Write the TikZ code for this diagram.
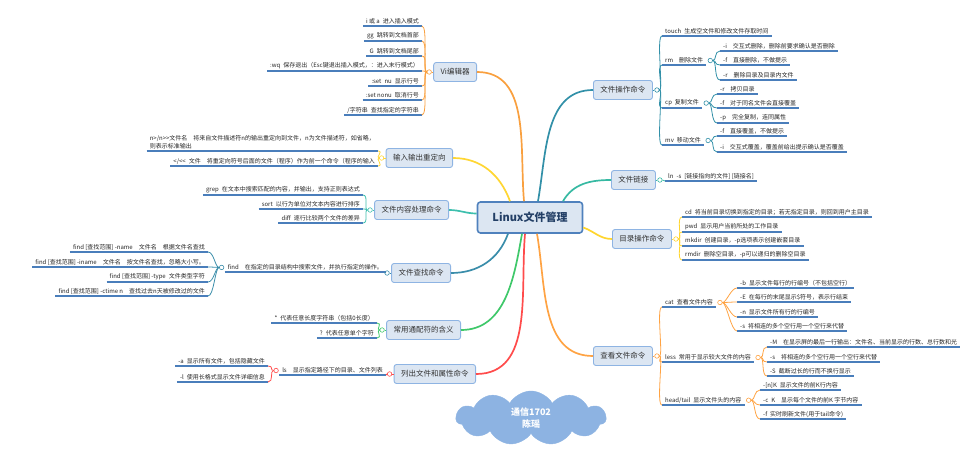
\documentclass[tikz,border=0pt]{standalone}
\usepackage{fontspec}
\setmainfont{Noto Sans CJK SC}
\usetikzlibrary{shapes.symbols}

\definecolor{boxfill}{HTML}{DCE6F2}
\definecolor{boxline}{HTML}{8EB4E3}
\definecolor{rootline}{HTML}{4F81BD}
\definecolor{roottext}{HTML}{233F66}
\definecolor{uline}{HTML}{4A7EBB}
\definecolor{cloudfill}{HTML}{8DB3E2}
\definecolor{cVi}{HTML}{F9A03F}
\definecolor{cIo}{HTML}{FFD633}
\definecolor{cTxt}{HTML}{3DBFAD}
\definecolor{cFnd}{HTML}{3A8DAA}
\definecolor{cWc}{HTML}{3FC86A}
\definecolor{cLs}{HTML}{FF4B4B}
\definecolor{cOps}{HTML}{3290A8}
\definecolor{cLnk}{HTML}{36B9A2}
\definecolor{cDir}{HTML}{FFD52E}
\definecolor{cView}{HTML}{FFA343}

\begin{document}
\begin{tikzpicture}[x=1pt,y=1pt]
  \tikzstyle{root}=[draw=rootline,line width=1.6pt,fill=boxfill,rounded corners=3pt,
    minimum width=105pt,minimum height=31pt,text=roottext,font=\fontsize{11}{13}\selectfont\bfseries]
  \tikzstyle{topic}=[draw=boxline,line width=0.9pt,fill=boxfill,rounded corners=2.5pt,
    minimum height=19pt,inner xsep=7pt,text=black!80,font=\fontsize{7.5}{9}\selectfont]
  \tikzstyle{leaf}=[inner xsep=3pt,inner ysep=1.5pt,text=black!85,font=\fontsize{6}{8}\selectfont,
    append after command={(\tikzlastnode.south west) edge[draw=uline,line width=1.1pt] (\tikzlastnode.south east)}]
  \tikzstyle{lleaf}=[leaf,anchor=south east]
  \tikzstyle{rleaf}=[leaf,anchor=south west]
  \tikzstyle{knob}=[circle,fill=white,line width=0.6pt,inner sep=0pt,minimum size=4.5pt]
  \tikzstyle{branch}=[line width=1.7pt]
  \tikzstyle{twig}=[line width=0.8pt]
  \useasboundingbox (0,0) rectangle (963,-449);

  \node[root] (root) at (530,-217.5) {Linux文件管理};

  % left side
  \node[topic,anchor=east] (vi) at (477,-72) {Vi编辑器};
  \node[knob,draw=cVi] (viK) at ([xshift=-4pt]vi.west) {};
  \node[lleaf] (vi1) at (422,-26) {i 或 a\enspace 进入插入模式};
  \node[lleaf] (vi2) at (422,-41) {gg\enspace 跳转到文档首部};
  \node[lleaf] (vi3) at (422,-56) {G\enspace 跳转到文档尾部};
  \node[lleaf] (vi4) at (422,-71) {:wq\enspace 保存退出（Esc键退出插入模式，：进入末行模式）};
  \node[lleaf] (vi5) at (422,-86) {:set\enspace nu\enspace 显示行号};
  \node[lleaf] (vi6) at (422,-100) {:set nonu\enspace 取消行号};
  \node[lleaf] (vi7) at (422,-115) {/字符串\enspace 查找指定的字符串};

  \node[topic,anchor=east] (io) at (453,-158) {输入输出重定向};
  \node[knob,draw=cIo] (ioK) at ([xshift=-4pt]io.west) {};
  \node[lleaf,align=left] (io1) at (378,-151) {n>/n>{}>文件名\quad 将来自文件描述符n的输出重定向到文件，n为文件描述符，如省略，\\则表示标准输出};
  \node[lleaf] (io2) at (378,-166) {</<{}<\enspace 文件\quad 将重定向符号后面的文件（程序）作为前一个命令（程序的输入};

  \node[topic,anchor=east] (txt) at (449,-210) {文件内容处理命令};
  \node[knob,draw=cTxt] (txtK) at ([xshift=-4pt]txt.west) {};
  \node[lleaf] (txt1) at (363,-195) {grep\enspace 在文本中搜索匹配的内容，并输出，支持正则表达式};
  \node[lleaf] (txt2) at (363,-209) {sort\enspace 以行为单位对文本内容进行排序};
  \node[lleaf] (txt3) at (363,-223) {diff\enspace 逐行比较两个文件的差异};

  \node[topic,anchor=east] (fnd) at (451,-273) {文件查找命令};
  \node[knob,draw=cFnd] (fndK) at ([xshift=-4pt]fnd.west) {};
  \node[lleaf] (fnd0) at (386,-272) {find\quad 在指定的目录结构中搜索文件，并执行指定的操作。};
  \node[knob,draw=cFnd] (fnd0K) at ([xshift=-3pt]fnd0.west) {};
  \node[lleaf] (fnd1) at (208,-252) {find [查找范围] -name\quad 文件名\quad 根据文件名查找};
  \node[lleaf] (fnd2) at (208,-267) {find [查找范围] -iname\quad 文件名\quad 按文件名查找，忽略大小写。};
  \node[lleaf] (fnd3) at (208,-282) {find [查找范围] -type\enspace 文件类型字符};
  \node[lleaf] (fnd4) at (208,-296) {find [查找范围] -ctime n\quad 查找过去n天被修改过的文件};

  \node[topic,anchor=east] (wc) at (461,-330) {常用通配符的含义};
  \node[knob,draw=cWc] (wcK) at ([xshift=-4pt]wc.west) {};
  \node[lleaf] (wc1) at (377,-323) {*\enspace 代表任意长度字符串（包括0长度）};
  \node[lleaf] (wc2) at (377,-338) {?\enspace 代表任意单个字符};

  \node[topic,anchor=east] (ls) at (476,-374) {列出文件和属性命令};
  \node[knob,draw=cLs] (lsK) at ([xshift=-4pt]ls.west) {};
  \node[lleaf] (ls0) at (386,-375) {ls\quad 显示指定路径下的目录、文件列表};
  \node[knob,draw=cLs] (ls0K) at ([xshift=-3pt]ls0.west) {};
  \node[lleaf] (ls1) at (268,-366) {-a\enspace 显示所有文件，包括隐藏文件};
  \node[lleaf] (ls2) at (268,-382) {-l\enspace 使用长格式显示文件详细信息};

  % right side
  \node[topic,anchor=west] (ops) at (593,-90) {文件操作命令};
  \node[knob,draw=cOps] (opsK) at ([xshift=4pt]ops.east) {};
  \node[rleaf] (touch) at (662,-36) {touch\enspace 生成空文件和修改文件存取时间};
  \node[rleaf] (rm) at (662,-65) {rm\quad 删除文件};
  \node[rleaf] (cp) at (662,-108) {cp\enspace 复制文件};
  \node[rleaf] (mv) at (662,-145) {mv\enspace 移动文件};
  \node[knob,draw=cOps] (rmK) at ([xshift=4pt]rm.east) {};
  \node[knob,draw=cOps] (cpK) at ([xshift=4pt]cp.east) {};
  \node[knob,draw=cOps] (mvK) at ([xshift=4pt]mv.east) {};
  \node[rleaf] (rm1) at (720,-51) {-i\quad 交互式删除，删除前要求确认是否删除};
  \node[rleaf] (rm2) at (720,-65) {-f\quad 直接删除，不做提示};
  \node[rleaf] (rm3) at (720,-80) {-r\quad 删除目录及目录内文件};
  \node[rleaf] (cp1) at (717,-94) {-r\quad 拷贝目录};
  \node[rleaf] (cp2) at (717,-108) {-f\quad 对于同名文件会直接覆盖};
  \node[rleaf] (cp3) at (717,-123) {-p\quad 完全复制，连同属性};
  \node[rleaf] (mv1) at (717,-136) {-f\quad 直接覆盖，不做提示};
  \node[rleaf] (mv2) at (717,-152) {-i\quad 交互式覆盖，覆盖前给出提示确认是否覆盖};

  \node[topic,anchor=west] (lnk) at (611,-180) {文件链接};
  \node[knob,draw=cLnk] (lnkK) at ([xshift=4pt]lnk.east) {};
  \node[rleaf] (lnk1) at (665,-181) {ln\enspace -s\enspace [链接指向的文件] [链接名]};

  \node[topic,anchor=west] (dir) at (612,-239) {目录操作命令};
  \node[knob,draw=cDir] (dirK) at ([xshift=4pt]dir.east) {};
  \node[rleaf] (dir1) at (682,-217) {cd\enspace 将当前目录切换到指定的目录；若无指定目录，则回到用户主目录};
  \node[rleaf] (dir2) at (682,-232) {pwd\enspace 显示用户当前所处的工作目录};
  \node[rleaf] (dir3) at (682,-246) {mkdir\enspace 创建目录，-p选项表示创建嵌套目录};
  \node[rleaf] (dir4) at (682,-260) {rmdir\enspace 删除空目录，-p可以递归的删除空目录};

  \node[topic,anchor=west] (view) at (593,-356) {查看文件命令};
  \node[knob,draw=cView] (viewK) at ([xshift=4pt]view.east) {};
  \node[rleaf] (cat) at (662,-307) {cat\enspace 查看文件内容};
  \node[rleaf] (less) at (662,-362) {less\enspace 常用于显示较大文件的内容};
  \node[rleaf] (head) at (662,-405) {head/tail\enspace 显示文件头的内容};
  \node[knob,draw=cView] (catK) at ([xshift=4pt]cat.east) {};
  \node[knob,draw=cView] (lessK) at ([xshift=4pt]less.east) {};
  \node[knob,draw=cView] (headK) at ([xshift=4pt]head.east) {};
  \node[rleaf] (cat1) at (737,-288) {-b\enspace 显示文件每行的行编号（不包括空行）};
  \node[rleaf] (cat2) at (737,-302) {-E\enspace 在每行的末尾显示\$符号，表示行结束};
  \node[rleaf] (cat3) at (737,-317) {-n\enspace 显示文件所有行的行编号};
  \node[rleaf] (cat4) at (737,-331) {-s\enspace 将相连的多个空行用一个空行来代替};
  \node[rleaf] (less1) at (767,-347) {-M\quad 在显示屏的最后一行输出：文件名、当前显示的行数、总行数和光};
  \node[rleaf] (less2) at (767,-362) {-s\quad 将相连的多个空行用一个空行来代替};
  \node[rleaf] (less3) at (767,-376) {-S\enspace 截断过长的行而不换行显示};
  \node[rleaf] (head1) at (760,-390) {-[n]K\enspace 显示文件的前K行内容};
  \node[rleaf] (head2) at (760,-405) {-c\enspace K\quad 显示每个文件的前K 字节内容};
  \node[rleaf] (head3) at (760,-419) {-f\enspace 实时刷新文件(用于tail命令)};

  \node[cloud,cloud puffs=11,cloud puff arc=120,cloud ignores aspect,fill=cloudfill,draw=cloudfill,
    minimum width=150pt,minimum height=54pt,text=white,align=center,
    font=\fontsize{9}{12}\selectfont\bfseries] (note) at (531,-418) {通信1702\\陈瑶};

  % main branches
  \draw[branch,cVi] ([xshift=-6pt]root.north) to[out=95,in=0] (vi.east);
  \draw[branch,cIo] ([xshift=-20pt]root.north) to[out=110,in=0] (io.east);
  \draw[branch,cTxt] ([yshift=4pt]root.west) to[out=180,in=0] (txt.east);
  \draw[branch,cFnd] ([xshift=-22pt]root.south) to[out=-110,in=0] (fnd.east);
  \draw[branch,cWc] ([xshift=-8pt]root.south) to[out=-100,in=0] (wc.east);
  \draw[branch,cLs] ([xshift=-5pt]root.south) to[out=-95,in=0] (ls.east);
  \draw[branch,cOps] ([xshift=8pt]root.north) to[out=80,in=180] (ops.west);
  \draw[branch,cLnk] ([xshift=33pt]root.north) to[out=60,in=180] (lnk.west);
  \draw[branch,cDir] ([yshift=-10pt]root.east) to[out=-20,in=180] (dir.west);
  \draw[branch,cView] ([xshift=7pt]root.south) to[out=-80,in=180] (view.west);

  % left twigs
  \draw[twig,cVi] (vi.west) -- (viK);
  \foreach \i in {1,...,7}
    \draw[twig,cVi] (viK.west) .. controls +(-4,0) and +(6,0) .. (vi\i.south east);
  \draw[twig,cIo] (io.west) -- (ioK);
  \foreach \i in {1,2}
    \draw[twig,cIo] (ioK.west) .. controls +(-4,0) and +(6,0) .. (io\i.south east);
  \draw[twig,cTxt] (txt.west) -- (txtK);
  \foreach \i in {1,2,3}
    \draw[twig,cTxt] (txtK.west) .. controls +(-4,0) and +(6,0) .. (txt\i.south east);
  \draw[twig,cFnd] (fnd.west) -- (fndK);
  \draw[twig,cFnd] (fndK.west) -- (fnd0.south east);
  \foreach \i in {1,...,4}
    \draw[twig,cFnd] (fnd0K.west) .. controls +(-4,0) and +(6,0) .. (fnd\i.south east);
  \draw[twig,cWc] (wc.west) -- (wcK);
  \foreach \i in {1,2}
    \draw[twig,cWc] (wcK.west) .. controls +(-4,0) and +(6,0) .. (wc\i.south east);
  \draw[twig,cLs] (ls.west) -- (lsK);
  \draw[twig,cLs] (lsK.west) -- (ls0.south east);
  \foreach \i in {1,2}
    \draw[twig,cLs] (ls0K.west) .. controls +(-4,0) and +(6,0) .. (ls\i.south east);

  % right twigs
  \draw[twig,cOps] (ops.east) -- (opsK);
  \foreach \n in {touch,rm,cp,mv}
    \draw[twig,cOps] (opsK.east) .. controls +(4,0) and +(-6,0) .. (\n.south west);
  \foreach \i in {1,2,3}
    \draw[twig,cOps] (rmK.east) .. controls +(4,0) and +(-6,0) .. (rm\i.south west);
  \foreach \i in {1,2,3}
    \draw[twig,cOps] (cpK.east) .. controls +(4,0) and +(-6,0) .. (cp\i.south west);
  \foreach \i in {1,2}
    \draw[twig,cOps] (mvK.east) .. controls +(4,0) and +(-6,0) .. (mv\i.south west);
  \draw[twig,cLnk] (lnk.east) -- (lnkK);
  \draw[twig,cLnk] (lnkK.east) -- (lnk1.south west);
  \draw[twig,cDir] (dir.east) -- (dirK);
  \foreach \i in {1,...,4}
    \draw[twig,cDir] (dirK.east) .. controls +(4,0) and +(-6,0) .. (dir\i.south west);
  \draw[twig,cView] (view.east) -- (viewK);
  \foreach \n in {cat,less,head}
    \draw[twig,cView] (viewK.east) .. controls +(4,0) and +(-6,0) .. (\n.south west);
  \foreach \i in {1,...,4}
    \draw[twig,cView] (catK.east) .. controls +(4,0) and +(-6,0) .. (cat\i.south west);
  \foreach \i in {1,2,3}
    \draw[twig,cView] (lessK.east) .. controls +(4,0) and +(-6,0) .. (less\i.south west);
  \foreach \i in {1,2,3}
    \draw[twig,cView] (headK.east) .. controls +(4,0) and +(-6,0) .. (head\i.south west);
\end{tikzpicture}
\end{document}
